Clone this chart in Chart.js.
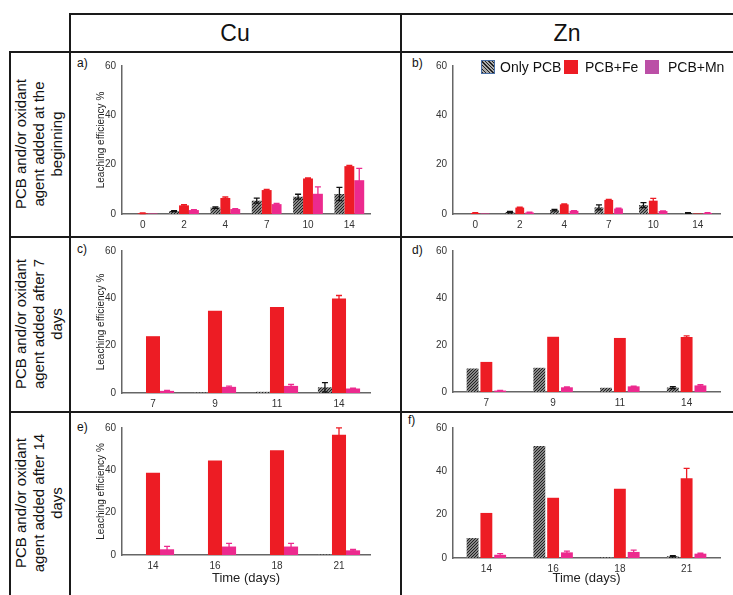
<!DOCTYPE html>
<html>
<head>
<meta charset="utf-8">
<script src="https://cdn.jsdelivr.net/npm/chart.js@4"></script>
<style>
  body { margin: 0; background: #fff; font-family: "Liberation Sans", Arial, sans-serif; color: #111; }
  #fig { position: relative; width: 733px; height: 595px; overflow: hidden; background: #fff; }
  .ln { position: absolute; background: #1a1a1a; }
  .hdr { position: absolute; top: 14px; height: 38px; line-height: 38px; text-align: center; font-size: 23px; }
  .rowlab { position: absolute; width: 180px; height: 60px; display: flex; align-items: center; justify-content: center;
            text-align: center; font-size: 15px; line-height: 18px; transform: rotate(-90deg); }
  .tag { position: absolute; font-size: 12px; }
  canvas { position: absolute; }
  .sw { position: absolute; width: 13px; height: 13px; }
  .lt { position: absolute; font-size: 14px; line-height: 16px; }
</style>
</head>
<body>
<div id="fig">
  <div class="ln" style="left:69px;top:13px;width:664px;height:1.5px"></div>
  <div class="ln" style="left:9px;top:51px;width:724px;height:1.5px"></div>
  <div class="ln" style="left:9px;top:236px;width:724px;height:1.5px"></div>
  <div class="ln" style="left:9px;top:411px;width:724px;height:1.5px"></div>
  <div class="ln" style="left:69px;top:13px;width:1.5px;height:582px"></div>
  <div class="ln" style="left:400px;top:13px;width:1.5px;height:582px"></div>
  <div class="ln" style="left:9px;top:51px;width:1.5px;height:544px"></div>

  <div class="hdr" style="left:70px;width:330px">Cu</div>
  <div class="hdr" style="left:401px;width:332px">Zn</div>

  <div class="rowlab" style="left:-51px;top:114px">PCB and/or oxidant<br>agent added at the<br>beginning</div>
  <div class="rowlab" style="left:-51px;top:294px">PCB and/or oxidant<br>agent added after 7<br>days</div>
  <div class="rowlab" style="left:-51px;top:473px">PCB and/or oxidant<br>agent added after 14<br>days</div>

  <div class="tag" style="left:77px;top:56px">a)</div>
  <div class="tag" style="left:412px;top:56px">b)</div>
  <div class="tag" style="left:77px;top:242px">c)</div>
  <div class="tag" style="left:412px;top:243px">d)</div>
  <div class="tag" style="left:77px;top:420px">e)</div>
  <div class="tag" style="left:408px;top:413px">f)</div>

  <canvas id="cA" width="328" height="183" style="left:71px;top:53px"></canvas>
  <canvas id="cB" width="331" height="183" style="left:402px;top:53px"></canvas>
  <canvas id="cC" width="328" height="172" style="left:71px;top:239px"></canvas>
  <canvas id="cD" width="331" height="172" style="left:402px;top:239px"></canvas>
  <canvas id="cE" width="328" height="181" style="left:71px;top:414px"></canvas>
  <canvas id="cF" width="331" height="181" style="left:402px;top:414px"></canvas>

  <div class="sw" style="left:481px;top:60px;border:1px solid #4a6fa5;width:12px;height:12px;
       background:repeating-linear-gradient(45deg,#222 0 1px,#aaa 1px 2.5px)"></div>
  <div class="lt" style="left:500px;top:59px">Only PCB</div>
  <div class="sw" style="left:564px;top:60px;width:14px;height:14px;background:#ed1c24"></div>
  <div class="lt" style="left:585px;top:59px">PCB+Fe</div>
  <div class="sw" style="left:645px;top:60px;width:14px;height:14px;background:#bb4fa6"></div>
  <div class="lt" style="left:668px;top:59px">PCB+Mn</div>
</div>

<script>
// time points (days)
const daysBegin = ['0', '2', '4', '7', '10', '14'];
const daysAfter7 = ['7', '9', '11', '14'];
const daysAfter14 = ['14', '16', '18', '21'];

// a) Cu, added at the beginning
const cuBeginPcb = [0, 1.2, 2.6, 5.4, 7.0, 8.1];
const cuBeginPcbErr = [0, 0.2, 0.3, 1.0, 1.0, 2.7];
const cuBeginFe = [0.3, 3.5, 6.5, 9.7, 14.4, 19.4];
const cuBeginFeErr = [0.1, 0.3, 0.4, 0.3, 0.2, 0.3];
const cuBeginMn = [0.2, 1.6, 2.0, 4.0, 8.2, 13.7];
const cuBeginMnErr = [0, 0.2, 0.2, 0.3, 2.8, 4.8];

// b) Zn, added at the beginning
const znBeginPcb = [0, 0.8, 1.6, 2.7, 3.6, 0.4];
const znBeginPcbErr = [0, 0.3, 0.3, 1.0, 1.0, 0.1];
const znBeginFe = [0.4, 2.6, 3.9, 5.7, 5.4, 0.2];
const znBeginFeErr = [0.1, 0.2, 0.2, 0.2, 0.9, 0];
const znBeginMn = [0.2, 0.6, 1.3, 2.2, 1.2, 0.4];
const znBeginMnErr = [0, 0.1, 0.1, 0.2, 0.1, 0.1];

// c) Cu, added after 7 days
const cu7Pcb = [0, 0.2, 0.5, 2.4];
const cu7PcbErr = [0, 0, 0, 2.0];
const cu7Fe = [24.0, 34.8, 36.3, 39.9];
const cu7FeErr = [0, 0, 0, 1.3];
const cu7Mn = [0.9, 2.6, 3.0, 1.9];
const cu7MnErr = [0.2, 0.3, 0.6, 0.2];

// d) Zn, added after 7 days
const zn7Pcb = [10.0, 10.3, 1.8, 1.9];
const zn7PcbErr = [0, 0, 0, 0.4];
const zn7Fe = [12.8, 23.5, 23.0, 23.4];
const zn7FeErr = [0, 0, 0, 0.5];
const zn7Mn = [0.6, 2.0, 2.4, 2.8];
const zn7MnErr = [0.1, 0.2, 0.1, 0.3];

// e) Cu, added after 14 days
const cu14Pcb = [0, 0, 0, 0.2];
const cu14PcbErr = [0, 0, 0, 0];
const cu14Fe = [38.8, 44.6, 49.5, 56.8];
const cu14FeErr = [0, 0, 0, 3.3];
const cu14Mn = [2.7, 4.0, 4.0, 2.2];
const cu14MnErr = [1.4, 1.5, 1.5, 0.4];

// f) Zn, added after 14 days
const zn14Pcb = [9.2, 51.7, 0.3, 0.8];
const zn14PcbErr = [0, 0, 0, 0.3];
const zn14Fe = [20.8, 27.8, 32.0, 36.8];
const zn14FeErr = [0, 0, 0, 4.6];
const zn14Mn = [1.5, 2.6, 2.8, 2.0];
const zn14MnErr = [0.5, 0.6, 0.8, 0.2];

const RED = '#ed1c24';
const PINK = '#ec2a8e';

Chart.defaults.font.family = '"Liberation Sans", Arial, sans-serif';

// dense dark diagonal hatch for "Only PCB"
function hatch() {
  const c = document.createElement('canvas');
  c.width = 3; c.height = 3;
  const g = c.getContext('2d');
  g.fillStyle = '#b4b4b4';
  g.fillRect(0, 0, 3, 3);
  g.strokeStyle = '#1a1a1a';
  g.lineWidth = 1.1;
  g.beginPath();
  g.moveTo(0, 3); g.lineTo(3, 0);
  g.moveTo(-1, 1); g.lineTo(1, -1);
  g.moveTo(2, 4); g.lineTo(4, 2);
  g.stroke();
  return g.createPattern(c, 'repeat');
}

// error bars drawn from the y scale
const errorBars = {
  id: 'errorBars',
  afterDatasetsDraw(chart) {
    const ctx = chart.ctx;
    const y = chart.scales.y;
    chart.data.datasets.forEach((ds, i) => {
      const meta = chart.getDatasetMeta(i);
      meta.data.forEach((bar, j) => {
        const e = ds.errors[j];
        if (!e) return;
        const v = ds.data[j];
        const top = y.getPixelForValue(v + e);
        const bot = y.getPixelForValue(Math.max(v - e, 0));
        ctx.save();
        ctx.strokeStyle = ds.errorColor;
        ctx.lineWidth = 1.3;
        ctx.beginPath();
        ctx.moveTo(bar.x, bot); ctx.lineTo(bar.x, top);
        ctx.moveTo(bar.x - 3, top); ctx.lineTo(bar.x + 3, top);
        ctx.moveTo(bar.x - 3, bot); ctx.lineTo(bar.x + 3, bot);
        ctx.stroke();
        ctx.restore();
      });
    });
  }
};

function makeChart(id, labels, pcb, pcbErr, fe, feErr, mn, mnErr, o) {
  const data = {
    labels: labels,
    datasets: [
      { label: 'Only PCB', data: pcb, errors: pcbErr, errorColor: '#111', backgroundColor: hatch() },
      { label: 'PCB+Fe', data: fe, errors: feErr, errorColor: RED, backgroundColor: RED },
      { label: 'PCB+Mn', data: mn, errors: mnErr, errorColor: PINK, backgroundColor: PINK }
    ]
  };
  const config = {
    type: 'bar',
    data: data,
    plugins: [errorBars],
    options: {
      responsive: false,
      animation: false,
      categoryPercentage: o.cat,
      barPercentage: o.bar,
      layout: { padding: { top: o.top, right: o.right, left: 0, bottom: 0 } },
      plugins: { legend: { display: false }, tooltip: { enabled: false } },
      scales: {
        x: {
          grid: { display: false, drawTicks: false, tickLength: 0 },
          border: { color: '#666', width: 1.5 },
          ticks: { color: '#333', font: { size: 10 }, padding: 5, maxRotation: 0, autoSkip: false },
          title: { display: o.xTitle, text: 'Time (days)', color: '#222', font: { size: 13 }, padding: { top: 0, bottom: 9 } },
          afterFit(s) { s.height = o.xh; }
        },
        y: {
          min: 0,
          max: 60,
          grid: { display: false, drawTicks: false, tickLength: 0 },
          border: { color: '#666', width: 1.5 },
          ticks: { stepSize: 20, color: '#333', font: { size: 10 }, padding: 6 },
          title: { display: o.yTitle, text: 'Leaching efficiency %', color: '#222', font: { size: 10 }, padding: { top: 24, bottom: 0 } },
          afterFit(s) { s.width = 51; }
        }
      }
    }
  };
  return new Chart(document.getElementById(id).getContext('2d'), config);
}

makeChart('cA', daysBegin, cuBeginPcb, cuBeginPcbErr, cuBeginFe, cuBeginFeErr, cuBeginMn, cuBeginMnErr,
  { top: 13, right: 29, xh: 22, cat: 0.72, bar: 1, yTitle: true, xTitle: false });
makeChart('cB', daysBegin, znBeginPcb, znBeginPcbErr, znBeginFe, znBeginFeErr, znBeginMn, znBeginMnErr,
  { top: 13, right: 13, xh: 22, cat: 0.66, bar: 0.9, yTitle: false, xTitle: false });
makeChart('cC', daysAfter7, cu7Pcb, cu7PcbErr, cu7Fe, cu7FeErr, cu7Mn, cu7MnErr,
  { top: 6, right: 29, xh: 18, cat: 0.68, bar: 1, yTitle: true, xTitle: false });
makeChart('cD', daysAfter7, zn7Pcb, zn7PcbErr, zn7Fe, zn7FeErr, zn7Mn, zn7MnErr,
  { top: 5, right: 13, xh: 19, cat: 0.62, bar: 0.86, yTitle: false, xTitle: false });
makeChart('cE', daysAfter14, cu14Pcb, cu14PcbErr, cu14Fe, cu14FeErr, cu14Mn, cu14MnErr,
  { top: 14, right: 29, xh: 40, cat: 0.68, bar: 1, yTitle: true, xTitle: true });
makeChart('cF', daysAfter14, zn14Pcb, zn14PcbErr, zn14Fe, zn14FeErr, zn14Mn, zn14MnErr,
  { top: 14, right: 13, xh: 37, cat: 0.62, bar: 0.86, yTitle: false, xTitle: true });
</script>
</body>
</html>
